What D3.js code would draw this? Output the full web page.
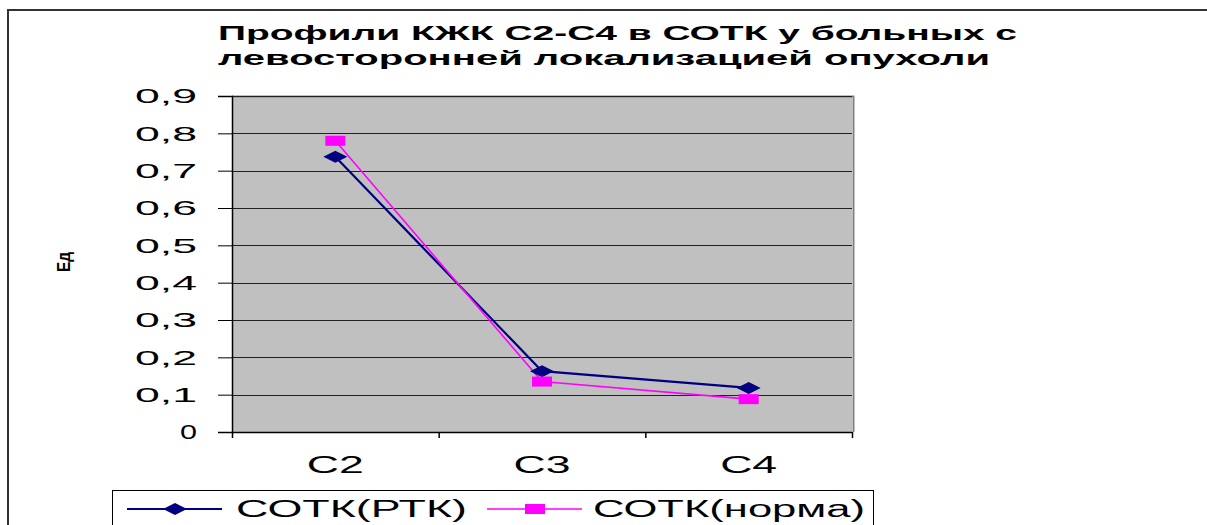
<!DOCTYPE html>
<html>
<head>
<meta charset="utf-8">
<script src="https://cdn.jsdelivr.net/npm/d3@7"></script>
<style>
  html, body { margin: 0; padding: 0; background: #fff; }
  svg { display: block; font-family: Arial, "Liberation Sans", sans-serif; }
</style>
</head>
<body>
<svg id="chart" width="1207" height="525"></svg>
<script>
// Profile data: КЖК fractions C2–C4
const categories = ["C2", "C3", "C4"];
const seriesNames = ["СОТК(РТК)", "СОТК(норма)"];
const valuesRTK = [0.737, 0.163, 0.118];
const valuesNorm = [0.780, 0.135, 0.088];
const yTicks = [0, 0.1, 0.2, 0.3, 0.4, 0.5, 0.6, 0.7, 0.8, 0.9];
const yTickLabels = ["0", "0,1", "0,2", "0,3", "0,4", "0,5", "0,6", "0,7", "0,8", "0,9"];
const titleLines = ["Профили КЖК С2-С4 в СОТК у больных с", "левосторонней локализацией опухоли"];

const svg = d3.select("#chart");
const plot = { left: 232, right: 852, top: 96, bottom: 432 };

// outer chart frame
svg.append("rect")
  .attr("x", 8).attr("y", 10).attr("width", 1220).attr("height", 540)
  .attr("fill", "#fff").attr("stroke", "#333").attr("stroke-width", 2);

// title (wide letterforms)
titleLines.forEach((t, i) => {
  svg.append("text")
    .attr("x", 218).attr("y", [40, 65][i])
    .attr("font-size", 20).attr("font-weight", "bold").attr("fill", "#000")
    .attr("textLength", [799, 772][i]).attr("lengthAdjust", "spacingAndGlyphs")
    .text(t);
});

const x = d3.scaleBand().domain(categories).range([plot.left, plot.right]);
const y = d3.scaleLinear().domain([0, 0.9]).range([plot.bottom, plot.top]);

// plot area
svg.append("rect")
  .attr("x", plot.left).attr("y", plot.top)
  .attr("width", plot.right - plot.left).attr("height", plot.bottom - plot.top)
  .attr("fill", "#c0c0c0");
svg.append("path")
  .attr("d", `M${plot.left},${plot.top + 0.5}H${plot.right + 1.5}V${plot.bottom}`)
  .attr("fill", "none").attr("stroke", "#808080").attr("stroke-width", 2);

// gridlines
svg.append("g").selectAll("line").data(yTicks.slice(1)).join("line")
  .attr("x1", plot.left).attr("x2", plot.right)
  .attr("y1", d => Math.round(y(d)) + 0.5).attr("y2", d => Math.round(y(d)) + 0.5)
  .attr("stroke", "#222").attr("stroke-width", 1);

// y axis
const yAxis = svg.append("g").attr("transform", `translate(${plot.left},0)`)
  .call(d3.axisLeft(y).tickValues(yTicks).tickSize(14).tickFormat((d, i) => yTickLabels[i]));
yAxis.select(".domain").attr("stroke", "#000").attr("stroke-width", 1.5);
yAxis.selectAll(".tick line").attr("stroke", "#000");
yAxis.selectAll(".tick text")
  .attr("x", -35).attr("font-size", 21).attr("fill", "#000")
  .attr("font-family", "Arial, 'Liberation Sans', sans-serif")
  .attr("textLength", (d, i) => yTickLabels[i].length === 1 ? 17 : 62)
  .attr("lengthAdjust", "spacingAndGlyphs");

// x axis
const xAxis = svg.append("g").attr("transform", `translate(0,${plot.bottom})`)
  .call(d3.axisBottom(x).tickSize(0).tickPadding(25));
xAxis.select(".domain").attr("stroke", "#000").attr("stroke-width", 1.5);
xAxis.selectAll(".tick text")
  .attr("font-size", 23).attr("fill", "#000")
  .attr("font-family", "Arial, 'Liberation Sans', sans-serif")
  .attr("textLength", 57).attr("lengthAdjust", "spacingAndGlyphs");
// category boundary ticks
const bounds = categories.map(c => x(c)).concat([plot.right]);
svg.append("g").selectAll("line").data(bounds).join("line")
  .attr("x1", d => d + 0.5).attr("x2", d => d + 0.5)
  .attr("y1", plot.bottom).attr("y2", plot.bottom + 6)
  .attr("stroke", "#000").attr("stroke-width", 1.5);

// axis title (rotated, compressed)
svg.append("text")
  .attr("transform", "translate(70,262) rotate(-90)")
  .attr("text-anchor", "middle").attr("font-size", 19).attr("font-weight", "bold")
  .attr("textLength", 20).attr("lengthAdjust", "spacingAndGlyphs")
  .text("Ед");

const cx = c => x(c) + x.bandwidth() / 2;
const line = d3.line().x((d, i) => cx(categories[i])).y(d => y(d));

// series lines
svg.append("path").datum(valuesRTK).attr("d", line)
  .attr("fill", "none").attr("stroke", "#000080").attr("stroke-width", 2.2);
svg.append("path").datum(valuesNorm).attr("d", line)
  .attr("fill", "none").attr("stroke", "#ff00ff").attr("stroke-width", 1.6);

// markers
const diamond = (px, py) => `M${px - 12},${py}L${px},${py - 6}L${px + 12},${py}L${px},${py + 6}Z`;
svg.append("g").selectAll("path").data(valuesRTK).join("path")
  .attr("d", (d, i) => diamond(cx(categories[i]), y(d)))
  .attr("fill", "#000080");
svg.append("g").selectAll("rect").data(valuesNorm).join("rect")
  .attr("x", (d, i) => cx(categories[i]) - 10).attr("y", d => y(d) - 5)
  .attr("width", 20).attr("height", 10).attr("fill", "#ff00ff");

// legend
const lg = svg.append("g");
lg.append("rect").attr("x", 112.5).attr("y", 490.5).attr("width", 761).attr("height", 40)
  .attr("fill", "#fff").attr("stroke", "#000").attr("stroke-width", 1);
const legendItems = [
  { name: seriesNames[0], x0: 127, color: "#000080", tx: 236, tw: 231, w: 2 },
  { name: seriesNames[1], x0: 487, color: "#ff00ff", tx: 593, tw: 272, w: 1.6 }
];
legendItems.forEach((it, k) => {
  const ly = 509;
  lg.append("line").attr("x1", it.x0).attr("x2", it.x0 + 95).attr("y1", ly).attr("y2", ly)
    .attr("stroke", it.color).attr("stroke-width", it.w);
  if (k === 0) {
    lg.append("path").attr("d", diamond(it.x0 + 48, ly)).attr("fill", it.color);
  } else {
    lg.append("rect").attr("x", it.x0 + 38).attr("y", ly - 5).attr("width", 20).attr("height", 10)
      .attr("fill", it.color);
  }
  lg.append("text").attr("x", it.tx).attr("y", ly + 8)
    .attr("font-size", 23).attr("fill", "#000")
    .attr("textLength", it.tw).attr("lengthAdjust", "spacingAndGlyphs")
    .text(it.name);
});
</script>
</body>
</html>
